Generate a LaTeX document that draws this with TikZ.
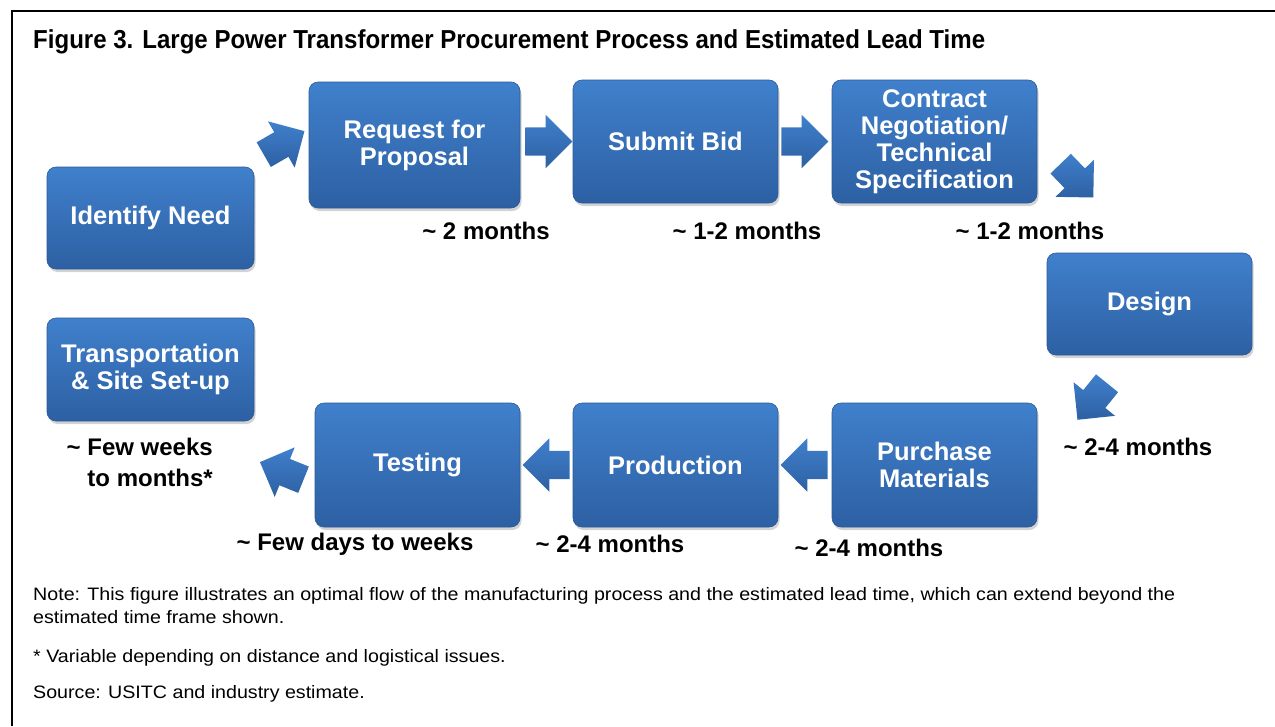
\documentclass[tikz,border=0pt]{standalone}
\usepackage{fontspec}
\usepackage{graphicx}
\setmainfont{Liberation Sans}
\usetikzlibrary{shapes.arrows,shadows,calc}
\definecolor{btop}{HTML}{4080CC}
\definecolor{bbot}{HTML}{2D60A3}
\definecolor{bedge}{HTML}{2B5A96}
\newlength\notewd
\newcommand\notefont{\fontsize{18}{22}\selectfont}
\newcommand\notescale{\settowidth{\notewd}{\notefont Note: This figure illustrates an optimal flow of the manufacturing process and the estimated lead time, which can extend beyond the}\pgfmathsetmacro\nsx{1142/\notewd}}
\newcommand\noteline[1]{\notescale\scalebox{\nsx}[1]{#1}}
\tikzset{
  box/.style={rectangle, rounded corners=9pt, top color=btop, bottom color=bbot,
    draw=bedge, line width=0.6pt, text=white, align=center, inner sep=0pt,
    font=\fontsize{25.5}{27}\selectfont\bfseries,
    drop shadow={shadow xshift=1.5pt, shadow yshift=-3pt, opacity=0.35}},
  flow/.style={single arrow, single arrow head extend=12.5pt, minimum width=53pt,
    minimum height=47pt, inner xsep=0pt, inner ysep=0pt, text height=14pt, text depth=14pt,
    top color=btop, bottom color=bbot, draw=none},
  time/.style={font=\fontsize{24}{31}\selectfont\bfseries, text=black, inner sep=0pt},
  note/.style={font=\notefont, text=black, inner sep=0pt, anchor=base west},
}
\begin{document}
\begin{tikzpicture}[x=1pt,y=-1pt]
\useasboundingbox (0,0) rectangle (1275,726);
% frame
\draw[line width=2.5pt] (12,726) -- (12,11) -- (1275,11);
% title
\node[inner sep=0pt, anchor=base west] (title) at (33,48)
  {\resizebox{952pt}{\height}{\fontsize{26}{30}\selectfont\bfseries Figure 3. Large Power Transformer Procurement Process and Estimated Lead Time}};
% boxes
\node[box, minimum width=207pt, minimum height=102pt] (need) at (150.5,218) {Identify Need};
\node[box, minimum width=211pt, minimum height=126pt] (rfp) at (414.5,145) {Request for\\Proposal};
\node[box, minimum width=205pt, minimum height=123pt] (bid) at (675.5,141.5) {Submit Bid};
\node[box, minimum width=205pt, minimum height=123pt] (contract) at (934.5,141.5) {Contract\\Negotiation/\\Technical\\Specification};
\node[box, minimum width=205pt, minimum height=102pt] (design) at (1149.5,304) {Design};
\node[box, minimum width=205pt, minimum height=124pt] (purchase) at (934.5,465) {Purchase\\Materials};
\node[box, minimum width=205pt, minimum height=124pt] (production) at (675.5,465) {Production};
\node[box, minimum width=205pt, minimum height=124pt] (testing) at (417.5,465) {Testing};
\node[box, minimum width=207pt, minimum height=103pt] (transport) at (150.5,369.5) {Transportation\\\& Site Set-up};
% block arrows
\node[flow, rotate=30, anchor=tip] (a1) at ([shift={(-4,-14)}]rfp.west) {};
\node[flow, anchor=tip] (a2) at (bid.west) {};
\node[flow, anchor=tip] (a3) at ([xshift=-3pt]contract.west) {};
\node[flow, rotate=-46, anchor=tip] (a4) at ([shift={(-56,-55)}]design.north) {};
\node[flow, rotate=-129, anchor=tip] (a5) at ([shift={(40,-45)}]purchase.east) {};
\node[flow, rotate=180, anchor=tip] (a6) at ([xshift=2pt]production.east) {};
\node[flow, rotate=180, anchor=tip] (a7) at ([xshift=2pt]testing.east) {};
\node[flow, rotate=158, anchor=tip] (a8) at ([shift={(-55,-3)}]testing.west) {};
% lead times
\node[time] (t1) at (486,231) {\textasciitilde{} 2 months};
\node[time] (t2) at (747,231) {\textasciitilde{} 1-2 months};
\node[time] (t3) at (1030,231) {\textasciitilde{} 1-2 months};
\node[time] (t4) at (1138,447) {\textasciitilde{} 2-4 months};
\node[time] (t5) at (869,548) {\textasciitilde{} 2-4 months};
\node[time] (t6) at (610,544) {\textasciitilde{} 2-4 months};
\node[time] (t7) at (355,544) {\textasciitilde{} Few days to weeks};
\node[time, align=right, anchor=east] (t8) at (213,462.5) {\textasciitilde{} Few weeks\\to months*};
% notes
\node[note] (n1) at (33,600) {\noteline{Note: This figure illustrates an optimal flow of the manufacturing process and the estimated lead time, which can extend beyond the}};
\node[note] (n2) at (33,623) {\noteline{estimated time frame shown.}};
\node[note] (n3) at (33,662) {\noteline{* Variable depending on distance and logistical issues.}};
\node[note] (n4) at (33,698) {\noteline{Source: USITC and industry estimate.}};
\end{tikzpicture}
\end{document}
